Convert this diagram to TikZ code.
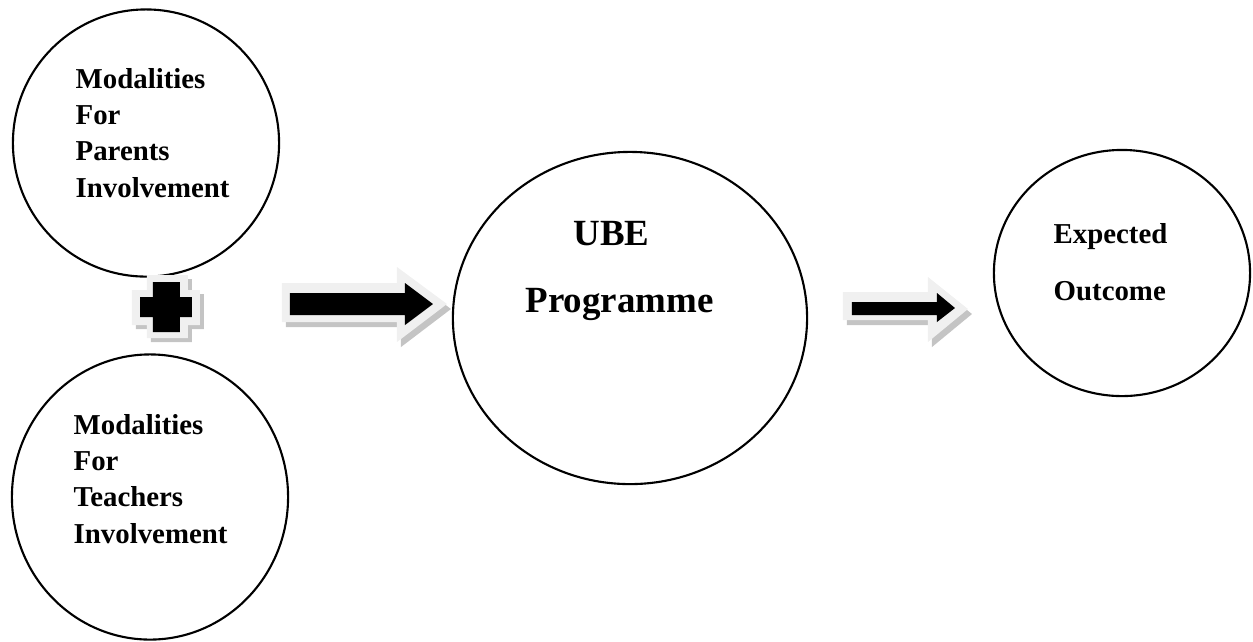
\documentclass[tikz,border=0pt]{standalone}
\usepackage{fontspec}
\setmainfont{Liberation Serif}
\usetikzlibrary{shapes.geometric}

\definecolor{rimgray}{HTML}{F0F0F0}
\definecolor{shadegray}{HTML}{C4C4C4}

\tikzset{
  bubble/.style={draw, ellipse, line width=0.6pt, inner sep=0pt},
  lbl/.style={font=\fontsize{8.2}{10.3}\selectfont\bfseries, align=left, inner sep=0pt},
  biglbl/.style={font=\fontsize{10.5}{12}\selectfont\bfseries, inner sep=0pt},
  rim/.style={fill=rimgray},
  shade/.style={fill=shadegray},
}

\begin{document}
\begin{tikzpicture}[x=0.01cm, y=-0.01cm]
  \useasboundingbox (0,0) rectangle (1253,641);

  % the four bubbles
  \node[bubble, minimum width=2.66cm, minimum height=2.67cm] (parents) at (146,143) {};
  \node[bubble, minimum width=2.76cm, minimum height=2.85cm] (teachers) at (150,497) {};
  \node[bubble, minimum width=3.54cm, minimum height=3.32cm] (ube) at (630,318) {};
  \node[bubble, minimum width=2.56cm, minimum height=2.46cm] (outcome) at (1122,273) {};

  % texts (base anchor sits on the last line)
  \node[lbl, anchor=base west] (partxt) at (75,197) {Modalities\\For\\Parents\\Involvement};
  \node[lbl, anchor=base west] (teatxt) at (73,543) {Modalities\\For\\Teachers\\Involvement};
  \node[biglbl, anchor=base west] (ubetxt) at (573,245) {UBE};
  \node[biglbl, anchor=base west] (progtxt) at (525,312) {Programme};
  \node[lbl, anchor=base west, font=\fontsize{8.2}{16.2}\selectfont\bfseries] (outtxt) at (1053,300) {Expected\\Outcome};

  % plus sign
  \fill[shade, shift={(4,4)}] (147,275) -- (188,275) -- (188,290) -- (200,290) -- (200,325) -- (188,325)
    -- (188,338) -- (147,338) -- (147,325) -- (132,325) -- (132,290) -- (147,290) -- cycle;
  \fill[rim] (147,275) -- (188,275) -- (188,290) -- (200,290) -- (200,325) -- (188,325)
    -- (188,338) -- (147,338) -- (147,325) -- (132,325) -- (132,290) -- (147,290) -- cycle;
  \fill (153,282) -- (180,282) -- (180,297) -- (192,297) -- (192,317) -- (180,317)
    -- (180,332) -- (153,332) -- (153,317) -- (140,317) -- (140,297) -- (153,297) -- cycle;

  % first block arrow
  \fill[shade, shift={(4,5)}] (282,283) -- (397,283) -- (397,267) -- (447,304) -- (397,342) -- (397,322) -- (282,322) -- cycle;
  \fill[rim] (282,283) -- (397,283) -- (397,267) -- (447,304) -- (397,342) -- (397,322) -- (282,322) -- cycle;
  \fill (290,293) -- (405,293) -- (405,283) -- (433,304) -- (405,325) -- (405,315) -- (290,315) -- cycle;

  % second block arrow
  \fill[shade, shift={(4,5)}] (843,292) -- (928,292) -- (928,277) -- (968,309) -- (928,342) -- (928,320) -- (843,320) -- cycle;
  \fill[rim] (843,292) -- (928,292) -- (928,277) -- (968,309) -- (928,342) -- (928,320) -- (843,320) -- cycle;
  \fill (852,302) -- (937,302) -- (937,293) -- (955,308) -- (937,322) -- (937,315) -- (852,315) -- cycle;
\end{tikzpicture}
\end{document}
